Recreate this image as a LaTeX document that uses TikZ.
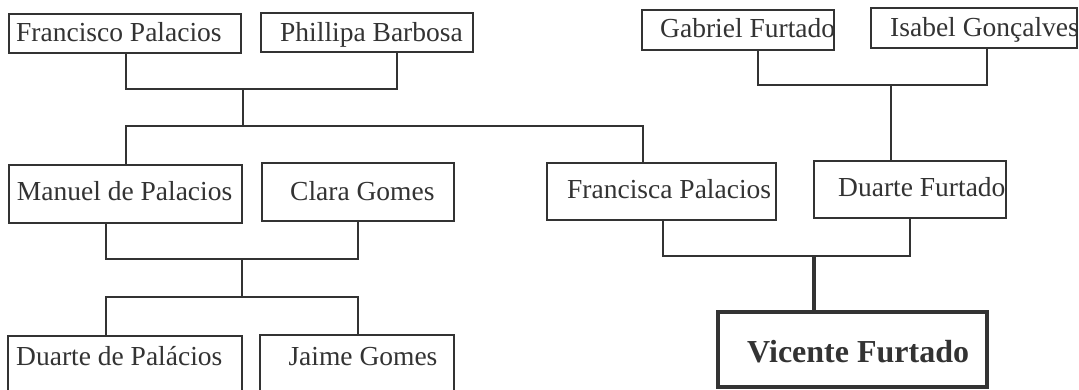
\documentclass[tikz,border=0pt]{standalone}
\usepackage{fontspec}
\setmainfont{Liberation Serif}
\begin{document}
\begin{tikzpicture}[x=1pt,y=-1pt,
  box/.style={draw=black!80, line width=2pt, rectangle, inner sep=0pt},
  bigbox/.style={draw=black!80, line width=3.6pt, rectangle, inner sep=0pt},
  persontext/.style={text=black!80, inner sep=0pt, anchor=base west, font=\fontsize{27.5}{30}\selectfont},
  bigpersontext/.style={text=black!80, inner sep=0pt, anchor=base west, font=\fontsize{32}{34}\selectfont\bfseries},
  conn/.style={draw=black!80, line width=2pt, line cap=rect},
  thickconn/.style={draw=black!80, line width=3.6pt}]
\useasboundingbox (0,0) rectangle (1079,389);
\fill[white] (0,0) rectangle (1079,389);
\clip (0,0) rectangle (1079,389);

% boxes
\node[box, minimum width=231.4pt, minimum height=38.7pt] (fp) at (125,33.35) {};
\node[box, minimum width=212pt, minimum height=39pt] (pb) at (367,32.2) {};
\node[box, minimum width=192.3pt, minimum height=40pt] (gf) at (737.85,30) {};
\node[box, minimum width=206.3pt, minimum height=40pt] (ig) at (973.85,28.3) {};
\node[box, minimum width=232.4pt, minimum height=57.7pt] (mp) at (125.5,193.85) {};
\node[box, minimum width=192.3pt, minimum height=57.4pt] (cg) at (357.85,192) {};
\node[box, minimum width=228.7pt, minimum height=57.3pt] (fr) at (661.65,191.35) {};
\node[box, minimum width=192pt, minimum height=57.6pt] (df) at (910,189.5) {};
\node[box, minimum width=234pt, minimum height=70pt] (dp) at (125,371) {};
\node[box, minimum width=194pt, minimum height=70pt] (jg) at (357,370) {};
\node[bigbox, minimum width=269pt, minimum height=75pt] (vf) at (852.5,349.5) {};

% names
\node[persontext] (fpt) at (16,41.7) {Francisco Palacios};
\node[persontext] (pbt) at (280,41) {Phillipa Barbosa};
\node[persontext] (gft) at (660,37.7) {Gabriel Furtado};
\node[persontext] (igt) at (890,36.7) {Isabel Gonçalves};
\node[persontext] (mpt) at (16.7,200.7) {Manuel de Palacios};
\node[persontext] (cgt) at (290,200) {Clara Gomes};
\node[persontext] (frt) at (567,198.3) {Francisca Palacios};
\node[persontext] (dft) at (838,196.7) {Duarte Furtado};
\node[persontext] (dpt) at (16,365) {Duarte de Palácios};
\node[persontext] (jgt) at (288.3,365) {Jaime Gomes};
\node[bigpersontext] (vft) at (747,362) {Vicente Furtado};

% junction coordinates
\coordinate (a1) at (126,89.3);
\coordinate (a2) at (396.7,89.3);
\coordinate (am) at (243.3,89.3);
\coordinate (ad) at (243.3,126);
\coordinate (h1) at (126,126);
\coordinate (h2) at (642.7,126);

\coordinate (b1) at (758.3,85);
\coordinate (b2) at (986.7,85);
\coordinate (bm) at (891,85);

\coordinate (c1) at (106,259.3);
\coordinate (c2) at (358.3,259.3);
\coordinate (cm) at (242,259.3);
\coordinate (cd) at (242,297.3);
\coordinate (d1) at (106,297.3);
\coordinate (d2) at (358.3,297.3);

\coordinate (e1) at (662.7,256);
\coordinate (e2) at (910,256);
\coordinate (em) at (814,256);

% connectors
\draw[conn] (fp.south -| a1) -- (a1) -- (a2) -- (pb.south -| a2);
\draw[conn] (am) -- (ad);
\draw[conn] (mp.north -| h1) -- (h1) -- (h2) -- (fr.north -| h2);

\draw[conn] (gf.south -| b1) -- (b1) -- (b2) -- (ig.south -| b2);
\draw[conn] (bm) -- (df.north -| bm);

\draw[conn] (mp.south -| c1) -- (c1) -- (c2) -- (cg.south -| c2);
\draw[conn] (cm) -- (cd);
\draw[conn] (dp.north -| d1) -- (d1) -- (d2) -- (jg.north -| d2);

\draw[conn] (fr.south -| e1) -- (e1) -- (e2) -- (df.south -| e2);
\draw[thickconn] (em) -- (vf.north -| em);
\end{tikzpicture}
\end{document}
